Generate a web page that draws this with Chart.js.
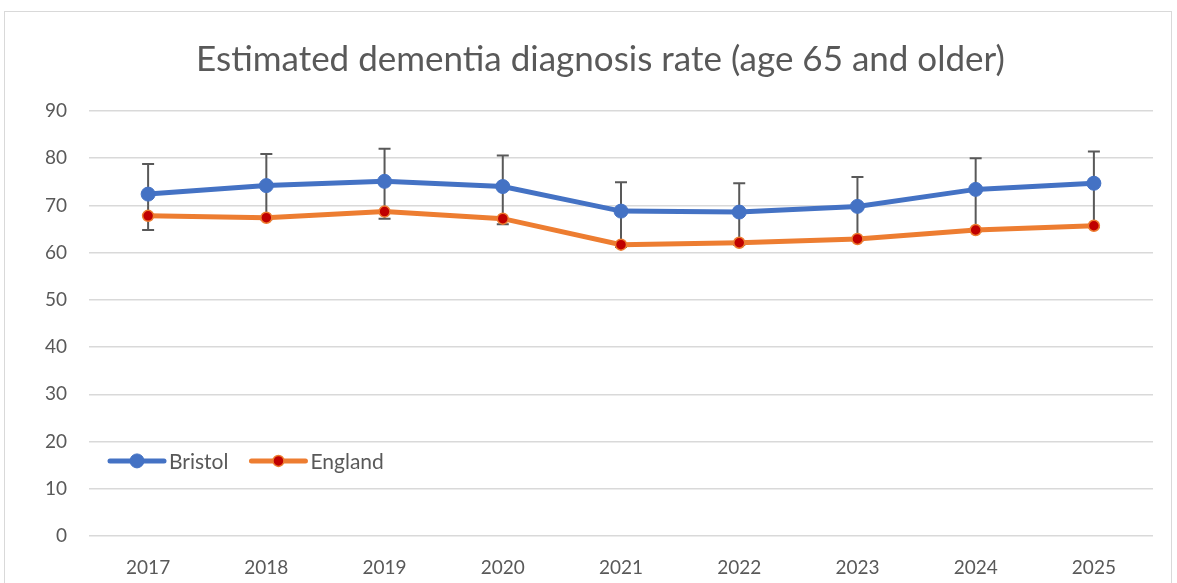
<!DOCTYPE html>
<html>
<head>
<meta charset="utf-8">
<script src="https://cdn.jsdelivr.net/npm/chart.js@4.4.1/dist/chart.umd.min.js"></script>
<style>
html,body{margin:0;padding:0;background:#fff;}
#wrap{position:relative;width:1177px;height:583px;}
#frame{position:absolute;left:4px;top:11px;width:1168px;height:580px;border:1.5px solid #d9d9d9;box-sizing:border-box;pointer-events:none;}
canvas{position:absolute;left:0;top:0;}
</style>
</head>
<body>
<div id="wrap"><canvas id="c" width="1177" height="583"></canvas><div id="frame"></div></div>
<script>
const titleText = 'Estimated dementia diagnosis rate (age 65 and older)';
const years = ['2017','2018','2019','2020','2021','2022','2023','2024','2025'];
const bristol = [72.4, 74.2, 75.1, 74.0, 68.8, 68.6, 69.8, 73.4, 74.7];
const bristolUpper = [78.8, 80.9, 82.0, 80.6, 74.9, 74.7, 76.0, 80.0, 81.4];
const bristolLower = [64.8, 67.0, 67.2, 66.0, 61.2, 61.6, 62.5, 64.5, 65.4];
const england = [67.8, 67.4, 68.7, 67.2, 61.7, 62.1, 62.9, 64.8, 65.7];
const yTicks = [0, 10, 20, 30, 40, 50, 60, 70, 80, 90];

const FONT = 'Lato, "Open Sans", sans-serif';
const GREY = '#595959';

const errorBars = {
  id: 'errorBars',
  beforeDatasetsDraw(chart) {
    const ctx = chart.ctx, x = chart.scales.x, y = chart.scales.y;
    ctx.save();
    ctx.strokeStyle = '#595959';
    ctx.lineWidth = 2;
    years.forEach((yr, i) => {
      const px = x.getPixelForValue(i);
      const top = y.getPixelForValue(bristolUpper[i]);
      const bot = y.getPixelForValue(bristolLower[i]);
      ctx.beginPath();
      ctx.moveTo(px, top); ctx.lineTo(px, bot);
      ctx.moveTo(px - 6, top); ctx.lineTo(px + 6, top);
      ctx.moveTo(px - 6, bot); ctx.lineTo(px + 6, bot);
      ctx.stroke();
    });
    ctx.restore();
  }
};

const titleDraw = {
  id: 'titleDraw',
  afterDraw(chart) {
    const ctx = chart.ctx;
    ctx.save();
    ctx.font = '35px ' + FONT;
    ctx.fillStyle = GREY;
    ctx.textAlign = 'center';
    ctx.textBaseline = 'middle';
    ctx.fillText(titleText, 600.5, 60);
    ctx.restore();
  }
};

const legendInside = {
  id: 'legendInside',
  afterDraw(chart) {
    const ctx = chart.ctx;
    const yPos = chart.scales.y.getPixelForValue(15.9);
    let xPos = chart.chartArea.left + 21;
    ctx.save();
    ctx.font = '21px ' + FONT;
    ctx.textBaseline = 'middle';
    chart.data.datasets.forEach(ds => {
      ctx.strokeStyle = ds.borderColor;
      ctx.lineWidth = 5;
      ctx.lineCap = 'round';
      ctx.beginPath();
      ctx.moveTo(xPos, yPos); ctx.lineTo(xPos + 54, yPos);
      ctx.stroke();
      ctx.beginPath();
      ctx.arc(xPos + 27, yPos, ds.pointRadius, 0, Math.PI * 2);
      ctx.fillStyle = ds.pointBackgroundColor;
      ctx.fill();
      ctx.lineWidth = ds.pointBorderWidth;
      ctx.strokeStyle = ds.pointBorderColor;
      ctx.stroke();
      ctx.fillStyle = GREY;
      ctx.fillText(ds.label, xPos + 59, yPos + 1);
      xPos += 59 + ctx.measureText(ds.label).width + 23;
    });
    ctx.restore();
  }
};

new Chart(document.getElementById('c'), {
  type: 'line',
  data: {
    labels: years,
    datasets: [
      {
        label: 'Bristol',
        data: bristol,
        borderColor: '#4472C4',
        backgroundColor: '#4472C4',
        borderWidth: 5,
        pointRadius: 7,
        pointBackgroundColor: '#4472C4',
        pointBorderColor: '#4472C4',
        pointBorderWidth: 1,
        tension: 0,
        order: 2
      },
      {
        label: 'England',
        data: england,
        borderColor: '#ED7D31',
        backgroundColor: '#ED7D31',
        borderWidth: 5,
        pointRadius: 5.5,
        pointBackgroundColor: '#C00000',
        pointBorderColor: '#ED7D31',
        pointBorderWidth: 1.5,
        tension: 0,
        order: 1
      }
    ]
  },
  options: {
    responsive: false,
    animation: false,
    layout: { padding: { left: 0, right: 24, top: 111, bottom: 0 } },
    plugins: {
      legend: { display: false },
      tooltip: { enabled: false },
      title: { display: false }
    },
    scales: {
      x: {
        offset: true,
        afterFit(s) { s.height = 47; },
        grid: { display: false, drawTicks: false },
        border: { display: false },
        ticks: { color: GREY, font: { family: FONT, size: 19 }, padding: 20 }
      },
      y: {
        min: 0, max: 90,
        afterFit(s) { s.width = 89; },
        afterBuildTicks(s) { s.ticks = yTicks.map(v => ({ value: v })); },
        grid: { color: '#d9d9d9', lineWidth: 1.5, drawTicks: false },
        border: { display: false },
        ticks: { color: GREY, font: { family: FONT, size: 19 }, padding: 22 }
      }
    }
  },
  plugins: [errorBars, legendInside, titleDraw]
});
</script>
</body>
</html>
